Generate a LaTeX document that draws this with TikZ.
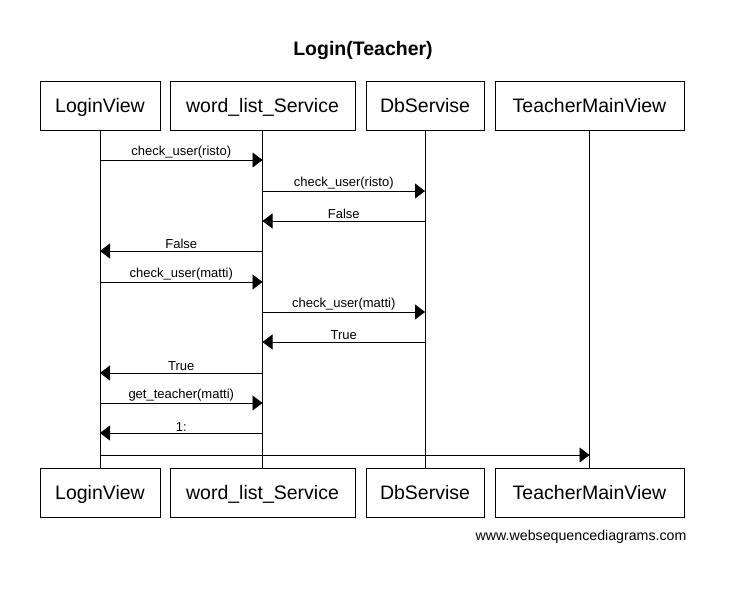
\documentclass[tikz,border=0pt]{standalone}
\usepackage{fontspec}
\setmainfont{Liberation Sans}
\usetikzlibrary{arrows.meta}
\begin{document}
\begin{tikzpicture}[x=1pt,y=-1pt,
  actor/.style={draw,line width=1pt,minimum height=49pt,inner sep=0pt,text height=17pt,text depth=3pt,font=\fontsize{19.5}{22}\selectfont},
  life/.style={line width=0.8pt},
  msg/.style={line width=0.8pt,-{Triangle[length=10pt,width=15pt]}},
  lbl/.style={font=\fontsize{13}{15}\selectfont,inner sep=0pt,anchor=base}]
\fill[white] (0,0) rectangle (750,597);
\useasboundingbox (0,0) rectangle (750,597);
\node[font=\bfseries\fontsize{19.5}{22}\selectfont] (title) at (363,51) {Login(Teacher)};
% top actors
\node[actor,minimum width=120pt] (t1) at (100,105.5) {LoginView};
\node[actor,minimum width=185pt] (t2) at (262.5,105.5) {word\_list\_Service};
\node[actor,minimum width=118pt] (t3) at (425,105.5) {DbServise};
\node[actor,minimum width=189pt] (t4) at (589.5,105.5) {TeacherMainView};
% bottom actors
\node[actor,minimum width=120pt] (b1) at (100,492.5) {LoginView};
\node[actor,minimum width=185pt] (b2) at (262.5,492.5) {word\_list\_Service};
\node[actor,minimum width=118pt] (b3) at (425,492.5) {DbServise};
\node[actor,minimum width=189pt] (b4) at (589.5,492.5) {TeacherMainView};
% lifelines
\draw[life] (t1.south) -- (b1.north);
\draw[life] (t2.south) -- (b2.north);
\draw[life] (t3.south) -- (b3.north);
\draw[life] (t4.south) -- (b4.north);
% messages
\draw[msg] (t1.south |- 0,160) -- node[lbl,above=1.5pt] {check\_user(risto)} (t2.south |- 0,160);
\draw[msg] (t2.south |- 0,191) -- node[lbl,above=1.5pt] {check\_user(risto)} (t3.south |- 0,191);
\draw[msg] (t3.south |- 0,221) -- node[lbl,above=1.5pt] {False} (t2.south |- 0,221);
\draw[msg] (t2.south |- 0,251) -- node[lbl,above=1.5pt] {False} (t1.south |- 0,251);
\draw[msg] (t1.south |- 0,282) -- node[lbl,above=1.5pt] {check\_user(matti)} (t2.south |- 0,282);
\draw[msg] (t2.south |- 0,312) -- node[lbl,above=1.5pt] {check\_user(matti)} (t3.south |- 0,312);
\draw[msg] (t3.south |- 0,342) -- node[lbl,above=1.5pt] {True} (t2.south |- 0,342);
\draw[msg] (t2.south |- 0,373) -- node[lbl,above=1.5pt] {True} (t1.south |- 0,373);
\draw[msg] (t1.south |- 0,403) -- node[lbl,above=1.5pt] {get\_teacher(matti)} (t2.south |- 0,403);
\draw[msg] (t2.south |- 0,433) -- node[lbl,above=1.5pt] {1:} (t1.south |- 0,433);
\draw[msg] (t1.south |- 0,455) -- (t4.south |- 0,455);
\node[font=\fontsize{14.2}{16}\selectfont,anchor=east] (foot) at (690,537) {www.websequencediagrams.com};
\end{tikzpicture}
\end{document}
